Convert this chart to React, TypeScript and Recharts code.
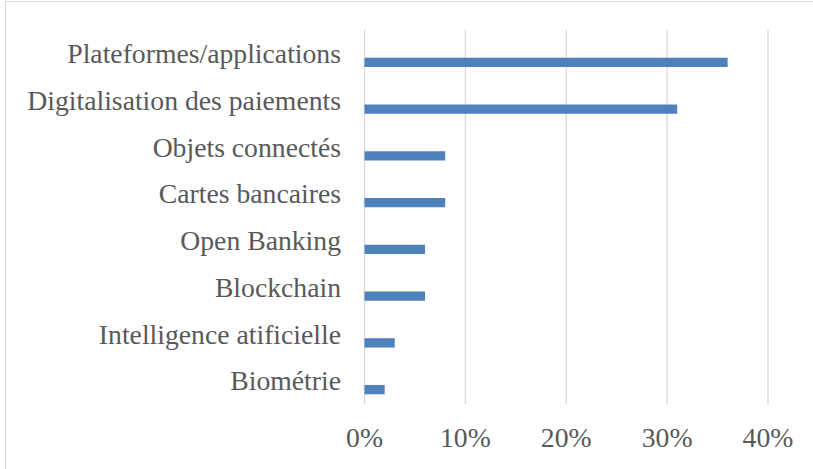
import React from "react";
import { BarChart, Bar, XAxis, YAxis, CartesianGrid } from "recharts";

const categories = [
  "Plateformes/applications",
  "Digitalisation des paiements",
  "Objets connectés",
  "Cartes bancaires",
  "Open Banking",
  "Blockchain",
  "Intelligence atificielle",
  "Biométrie",
];
const values = [0.36, 0.31, 0.08, 0.08, 0.06, 0.06, 0.03, 0.02];
const xTicks = [0, 0.1, 0.2, 0.3, 0.4];

const data = categories.map((name, i) => ({ name, blankA: null, blankB: null, value: values[i] }));

const FONT = "Liberation Serif";
const TEXT = "#595959";
const FS = 27.7;

const YTick = (props: any) => {
  const { x, y, payload } = props;
  return (
    <text x={x} y={y} dy="0.355em" textAnchor="end" fill={TEXT} fontSize={FS} fontFamily={FONT}>
      {payload.value}
    </text>
  );
};

const XTick = (props: any) => {
  const { x, y, payload } = props;
  return (
    <text x={x} y={y} dy="0.71em" textAnchor="middle" fill={TEXT} fontSize={FS} fontFamily={FONT}>
      {`${Math.round(payload.value * 100)}%`}
    </text>
  );
};

export default function App() {
  return (
    <div style={{ position: "absolute", left: 0, top: 0, width: 813, height: 469, overflow: "hidden", background: "#fff" }}>
      <div
        style={{
          position: "absolute",
          left: 5,
          top: 1,
          width: 900,
          height: 600,
          border: "1.5px solid #d9d9d9",
          boxSizing: "border-box",
        }}
      />
      <div style={{ position: "absolute", left: 0, top: 0 }}>
        <BarChart
          width={813}
          height={469}
          data={data}
          layout="vertical"
          margin={{ top: 30, right: 45, bottom: 35, left: 0 }}
          barGap={0}
          barSize={9.35}
        >
          <CartesianGrid horizontal={false} vertical={true} stroke="#d9d9d9" strokeWidth={1.3} />
          <XAxis
            type="number"
            domain={[0, 0.4]}
            ticks={xTicks}
            axisLine={false}
            tickLine={false}
            tickSize={0}
            tickMargin={23.5}
            tick={XTick}
            interval={0}
          />
          <YAxis
            type="category"
            dataKey="name"
            width={364.5}
            axisLine={false}
            tickLine={false}
            tickSize={0}
            tickMargin={23.5}
            tick={YTick}
            interval={0}
          />
          <Bar dataKey="blankA" fill="#4f81bd" isAnimationActive={false} />
          <Bar dataKey="blankB" fill="#4f81bd" isAnimationActive={false} />
          <Bar dataKey="value" fill="#4f81bd" isAnimationActive={false} />
        </BarChart>
      </div>
    </div>
  );
}
